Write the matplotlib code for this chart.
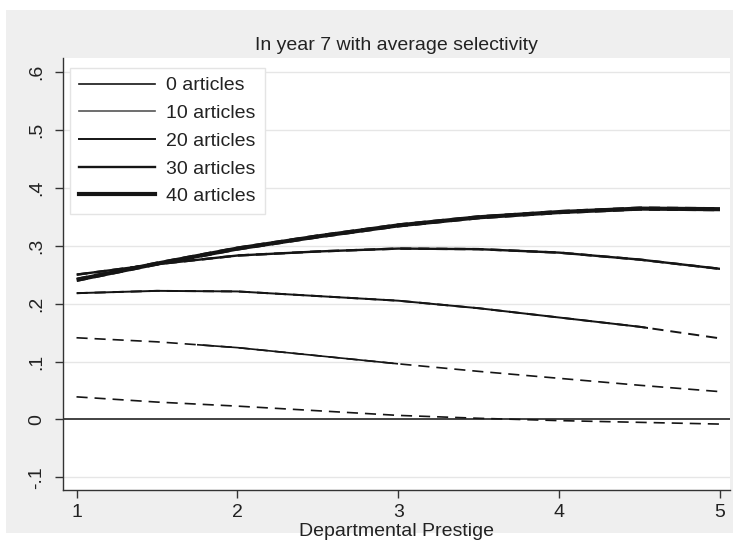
import numpy as np
import matplotlib
matplotlib.use("Agg")
import matplotlib.pyplot as plt
from matplotlib.lines import Line2D
from matplotlib.patches import Rectangle

# ---- data ----
prestige = [1.0, 1.5, 2.0, 2.5, 3.0, 3.5, 4.0, 4.5, 5.0]
series_labels = ["0 articles", "10 articles", "20 articles", "30 articles", "40 articles"]
y_0 = [0.039, 0.030, 0.023, 0.015, 0.007, 0.002, -0.002, -0.005, -0.008]
y_10 = [0.141, 0.134, 0.124, 0.110, 0.096, 0.083, 0.071, 0.059, 0.048]
y_20 = [0.218, 0.222, 0.221, 0.213, 0.205, 0.192, 0.176, 0.160, 0.140]
y_30 = [0.250, 0.268, 0.283, 0.290, 0.295, 0.294, 0.288, 0.276, 0.260]
y_40 = [0.241, 0.269, 0.295, 0.316, 0.335, 0.349, 0.358, 0.364, 0.363]
# range of prestige where the effect is drawn solid (None = dashed throughout)
solid_from = [None, 1.75, 1.0, 1.0, 1.0]
solid_to = [None, 3.0, 4.55, 5.0, 5.0]
yticks = [-0.1, 0, 0.1, 0.2, 0.3, 0.4, 0.5, 0.6]
ytick_labels = ["-.1", "0", ".1", ".2", ".3", ".4", ".5", ".6"]
xticks = [1, 2, 3, 4, 5]

plt.rcParams['font.family'] = ['Liberation Sans', 'DejaVu Sans']
plt.rcParams['lines.scale_dashes'] = False

W, H = 741, 542
fig = plt.figure(figsize=(W / 100, H / 100), dpi=100, facecolor='white')
bg = '#efefef'
fig.patches.append(Rectangle((6 / W, 1 - 533 / H), (733 - 6) / W, (533 - 10) / H,
                             transform=fig.transFigure, facecolor=bg, edgecolor='none', zorder=-10))

ax = fig.add_axes([63 / W, 1 - 490 / H, (730 - 63) / W, (490 - 58) / H])
ax.set_zorder(5)
ax.set_facecolor('white')
ax.set_xlim(0.916, 5.062)
ax.set_ylim(-0.1218, 0.624)

for s in ['top', 'right']:
    ax.spines[s].set_visible(False)
for s in ['left', 'bottom']:
    ax.spines[s].set_color('#333333')
    ax.spines[s].set_linewidth(1.0)

ax.set_yticks(yticks)
ax.set_yticklabels(ytick_labels, rotation=90, va='center')
ax.set_xticks(xticks)
ax.tick_params(axis='y', length=6, width=1, color='#333333', pad=7, labelsize=14, labelcolor='#222222')
ax.tick_params(axis='x', length=6, width=1, color='#333333', pad=4, labelsize=14, labelcolor='#222222')
for t in yticks:
    if t != 0:
        ax.axhline(t, color='#e6e6e6', lw=1.0, zorder=1)
ax.axhline(0, color='#222222', lw=1.2, zorder=2)

widths = [1.2, 1.2, 1.4, 1.7, 3.0]
all_y = [y_0, y_10, y_20, y_30, y_40]
col = '#151515'
handles = []
for lab, yv, lw, s0, s1 in zip(series_labels, all_y, widths, solid_from, solid_to):
    ax.plot(prestige, yv, color=col, lw=lw, dashes=(8, 5), zorder=3,
            solid_capstyle='butt', dash_capstyle='butt')
    if s0 is not None:
        ln, = ax.plot(prestige, yv, color=col, lw=lw, zorder=4, solid_capstyle='butt')
        clip = Rectangle((s0, -1), s1 - s0, 2, transform=ax.transData)
        ln.set_clip_path(clip)
    handles.append(Line2D([], [], color=('#555555' if lab == '10 articles' else col), lw=lw))

leg = ax.legend(handles, series_labels, loc='upper left',
                bbox_to_anchor=(7 / 667, (490 - 68) / 432), borderaxespad=0,
                fontsize=14, handlelength=3.9, handletextpad=0.6, labelspacing=0.52,
                frameon=True, fancybox=False, edgecolor='#e4e4e4', framealpha=1,
                borderpad=0.45)
for t in leg.get_texts():
    t.set_color('#222222')

fig.text(0.5 * (63 + 730) / W, 1 - 46 / H, "In year 7 with average selectivity",
         ha='center', va='center', fontsize=14, color='#222222')
fig.text(0.5 * (63 + 730) / W + 0.0, 1 - 531 / H, "Departmental Prestige",
         ha='center', va='center', fontsize=14, color='#222222')

fig.savefig('out.png', dpi=100, facecolor='white')
